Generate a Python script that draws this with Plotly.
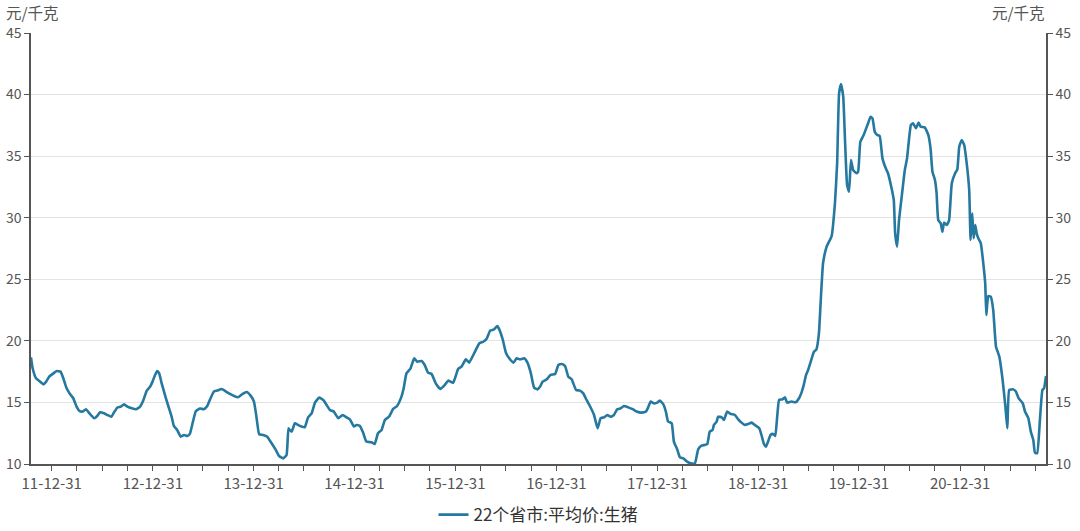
import plotly.graph_objects as go
import pandas as pd

series_name = "22个省市:平均价:生猪"
unit_label = "元/千克"

dates = [
    "2011-10-17","2011-10-23","2011-11-04","2011-11-19","2011-12-01","2011-12-11","2011-12-22",
    "2012-01-06","2012-01-18","2012-02-01","2012-02-11","2012-02-23","2012-03-06","2012-03-18","2012-03-30",
    "2012-04-09","2012-04-21","2012-05-03","2012-05-15","2012-06-01","2012-06-13","2012-06-23","2012-07-07",
    "2012-07-19","2012-08-03","2012-08-12","2012-08-24","2012-09-06","2012-09-18","2012-09-30","2012-10-16",
    "2012-10-31","2012-11-15","2012-11-27","2012-12-09","2012-12-21","2012-12-30",
    "2013-01-08","2013-01-16","2013-01-23","2013-02-01","2013-02-13","2013-02-25","2013-03-09","2013-03-17",
    "2013-03-29","2013-04-11","2013-04-23","2013-05-05","2013-05-14","2013-05-24","2013-06-05","2013-06-20",
    "2013-07-04","2013-07-16","2013-07-28","2013-08-09","2013-08-21","2013-09-06","2013-09-22","2013-10-06",
    "2013-10-21","2013-11-05","2013-11-21","2013-12-06","2013-12-20",
    "2014-01-01","2014-01-10","2014-01-20","2014-02-03","2014-02-18","2014-03-06","2014-03-21","2014-04-02",
    "2014-04-17","2014-04-29","2014-05-06","2014-05-11","2014-05-18","2014-05-29","2014-06-10","2014-06-22",
    "2014-07-04","2014-07-16","2014-07-29","2014-08-10","2014-08-25","2014-09-09","2014-09-21","2014-10-03",
    "2014-10-17","2014-11-02","2014-11-18","2014-12-02","2014-12-14","2014-12-29",
    "2015-01-07","2015-01-19","2015-01-31","2015-02-12","2015-03-03","2015-03-14","2015-03-26","2015-04-08",
    "2015-04-20","2015-05-05","2015-05-20","2015-06-03","2015-06-19","2015-06-27","2015-07-07","2015-07-22",
    "2015-08-04","2015-08-15","2015-08-31","2015-09-11","2015-09-23","2015-10-06","2015-10-21","2015-11-07",
    "2015-11-23","2015-12-05","2015-12-23",
    "2016-01-10","2016-01-22","2016-02-07","2016-02-19","2016-03-11","2016-03-27","2016-04-10","2016-04-23",
    "2016-05-05","2016-05-19","2016-05-31","2016-06-07","2016-06-20","2016-07-01","2016-07-13","2016-07-28",
    "2016-08-09","2016-08-21","2016-09-05","2016-09-17","2016-09-29","2016-10-11","2016-10-23","2016-11-02",
    "2016-11-11","2016-11-26","2016-12-10","2016-12-26",
    "2017-01-07","2017-01-19","2017-01-31","2017-02-12","2017-02-24","2017-03-12","2017-03-26","2017-04-07",
    "2017-04-19","2017-05-01","2017-05-16","2017-05-29","2017-06-09","2017-06-21","2017-07-03","2017-07-15",
    "2017-07-27","2017-08-08","2017-08-20","2017-09-01","2017-09-17","2017-10-03","2017-10-17","2017-11-04",
    "2017-11-20","2017-11-28","2017-12-07","2017-12-19","2017-12-31",
    "2018-01-09","2018-01-21","2018-01-31","2018-02-08","2018-02-21","2018-03-01","2018-03-13","2018-03-23",
    "2018-04-04","2018-04-18","2018-05-01","2018-05-16","2018-05-28","2018-06-09","2018-06-21","2018-06-30",
    "2018-07-09","2018-07-19","2018-07-24","2018-08-03","2018-08-08","2018-08-21","2018-08-29","2018-09-10",
    "2018-09-22","2018-10-08","2018-10-20","2018-11-01","2018-11-13","2018-11-25","2018-12-07","2018-12-19",
    "2019-01-04","2019-01-12","2019-01-21","2019-01-28","2019-02-05","2019-02-14","2019-02-23","2019-03-03",
    "2019-03-10","2019-03-17","2019-03-29","2019-04-07","2019-04-15","2019-05-01","2019-05-16","2019-05-28",
    "2019-06-06","2019-06-14","2019-06-22","2019-06-30","2019-07-12","2019-07-21","2019-07-30","2019-08-08",
    "2019-08-14","2019-08-23","2019-09-05","2019-09-23","2019-10-05","2019-10-13","2019-10-20","2019-10-27",
    "2019-11-04","2019-11-10","2019-11-18","2019-11-25","2019-12-02","2019-12-10","2019-12-22","2019-12-28",
    "2020-01-05","2020-01-17","2020-02-02","2020-02-11","2020-02-18","2020-02-26","2020-03-06","2020-03-15",
    "2020-03-25","2020-04-06","2020-04-14","2020-04-27","2020-05-05","2020-05-10","2020-05-17","2020-05-24",
    "2020-06-02","2020-06-14","2020-06-22","2020-07-06","2020-07-14","2020-07-24","2020-08-03","2020-08-10",
    "2020-08-25","2020-09-07","2020-09-15","2020-09-22","2020-10-01","2020-10-07","2020-10-13","2020-10-22",
    "2020-10-28","2020-11-03","2020-11-13","2020-11-21","2020-12-01","2020-12-13","2020-12-21","2020-12-28",
    "2021-01-06","2021-01-15","2021-01-24","2021-02-02","2021-02-07","2021-02-13","2021-02-18","2021-02-24",
    "2021-03-01","2021-03-07","2021-03-16","2021-03-25","2021-04-01","2021-04-05","2021-04-12","2021-04-21",
    "2021-04-30","2021-05-10","2021-05-22","2021-06-03","2021-06-13","2021-06-20","2021-06-27","2021-07-12",
    "2021-07-21","2021-07-31","2021-08-15","2021-08-23","2021-09-04","2021-09-13","2021-09-22","2021-09-28",
    "2021-10-06","2021-10-16","2021-10-25","2021-10-31","2021-11-07",
]

prices = [
    18.66,17.77,16.96,16.69,16.47,16.69,17.09,
    17.36,17.55,17.50,16.96,16.15,15.69,15.34,14.66,
    14.31,14.26,14.45,14.13,13.72,13.90,14.20,14.12,
    13.98,13.84,14.17,14.57,14.66,14.84,14.66,14.52,
    14.45,14.66,15.20,15.96,16.28,16.69,
    17.23,17.55,17.36,16.55,15.60,14.71,13.84,13.09,
    12.76,12.22,12.36,12.28,12.45,13.33,14.30,14.50,
    14.45,14.71,15.34,15.88,15.96,16.09,15.88,15.69,
    15.52,15.42,15.69,15.85,15.55,
    15.07,13.84,12.41,12.36,12.22,11.68,11.14,10.65,
    10.46,10.73,12.90,12.76,12.63,13.31,13.17,13.04,
    12.98,13.79,14.12,14.98,15.39,15.20,14.79,14.39,
    14.26,13.72,13.98,13.79,13.63,13.04,
    13.17,13.10,12.55,11.82,11.76,11.62,12.50,12.76,
    13.58,13.84,14.47,14.71,15.47,16.15,17.36,17.77,
    18.58,18.31,18.37,18.04,17.42,17.31,16.55,16.09,
    16.42,16.77,16.60,
    17.71,17.90,18.50,18.23,19.12,19.80,19.93,20.20,
    20.83,20.93,21.20,20.93,20.07,19.04,18.58,18.23,
    18.58,18.50,18.58,18.23,17.40,16.20,16.06,16.30,
    16.69,16.88,17.23,17.31,
    18.04,18.12,17.96,17.09,16.88,16.01,15.96,15.74,
    15.20,14.71,13.98,12.90,13.72,13.79,13.98,13.84,
    13.98,14.45,14.52,14.71,14.60,14.45,14.26,14.17,
    14.26,14.60,15.07,14.93,14.98,
    15.15,14.88,14.26,13.45,13.31,11.82,11.19,10.54,
    10.46,10.19,10.05,10.05,11.19,11.49,11.55,11.62,
    12.63,12.76,13.17,13.45,13.84,13.79,13.58,14.26,
    14.07,13.98,13.63,13.36,13.17,13.25,13.36,13.17,
    12.90,12.36,11.62,11.41,11.82,12.36,12.44,12.28,
    13.84,15.20,15.25,15.42,14.98,15.07,15.01,15.34,
    15.80,16.40,17.20,17.63,18.50,19.12,19.30,20.60,
    23.00,26.30,27.65,28.51,31.17,34.42,40.10,40.86,
    39.83,36.58,32.66,32.11,34.69,33.87,33.61,33.74,
    36.17,36.72,37.67,38.20,38.07,36.99,36.72,36.64,
    34.82,34.01,33.61,32.39,31.44,28.73,27.65,29.81,
    31.57,33.87,34.82,37.53,37.67,37.26,37.72,37.39,
    37.34,36.72,35.64,33.74,33.06,31.98,29.81,29.54,
    28.86,29.60,29.41,29.76,32.80,33.61,33.93,35.77,
    36.31,35.90,34.42,32.26,28.19,30.36,28.33,29.41,
    28.73,28.33,27.92,26.30,24.67,22.10,23.64,23.59,
    22.50,19.53,18.72,16.82,14.66,12.90,16.01,16.06,
    15.88,15.34,14.93,14.26,13.72,12.63,11.95,10.92,
    10.87,13.58,16.01,16.15,17.15,
]

tick_dates = ["2011-12-31","2012-12-31","2013-12-31","2014-12-31","2015-12-31",
              "2016-12-31","2017-12-31","2018-12-31","2019-12-31","2020-12-31"]
tick_labels = ["11-12-31","12-12-31","13-12-31","14-12-31","15-12-31",
               "16-12-31","17-12-31","18-12-31","19-12-31","20-12-31"]

y_ticks = [10, 15, 20, 25, 30, 35, 40, 45]

line_color = "#25789f"
axis_color = "#555555"
label_color = "#555555"
font_cjk = "Noto Sans CJK SC, Noto Sans, sans-serif"

quarter_ticks = [d.strftime("%Y-%m-%d") for d in pd.date_range("2011-12-31", "2021-10-01", freq="QE")]

fig = go.Figure()
fig.add_trace(go.Scatter(
    x=dates, y=prices, mode="lines", name=series_name,
    line=dict(color=line_color, width=2.6, shape="spline", smoothing=0.4),
))
fig.add_trace(go.Scatter(
    x=dates, y=prices, mode="lines", yaxis="y2", showlegend=False,
    hoverinfo="skip", line=dict(color="rgba(0,0,0,0)", width=0),
))

fig.update_layout(
    width=1080, height=531,
    margin=dict(l=31, r=34, t=33, b=67),
    paper_bgcolor="white", plot_bgcolor="white",
    font=dict(family=font_cjk, size=15, color=label_color),
    showlegend=True,
    legend=dict(orientation="h", x=0.5, xanchor="center",
                yref="container", y=0.03, yanchor="middle",
                font=dict(size=17, color="#333333"), itemwidth=30),
    xaxis=dict(
        type="date", range=["2011-10-17", "2021-11-07"], automargin=False,
        tickmode="array", tickvals=tick_dates, ticktext=tick_labels,
        ticks="outside", ticklen=5, tickcolor=axis_color,
        showline=True, linecolor=axis_color, linewidth=1.5,
        showgrid=False, zeroline=False,
        minor=dict(tickmode="array", tickvals=quarter_ticks, ticks="outside",
                   ticklen=5, tickcolor=axis_color, showgrid=False),
        tickfont=dict(size=15, color=label_color),
    ),
    yaxis=dict(
        range=[10, 45], tickmode="array", tickvals=y_ticks, automargin=False,
        ticks="outside", ticklen=5, tickcolor=axis_color,
        showline=True, linecolor=axis_color, linewidth=1.5,
        showgrid=True, gridcolor="#e3e3e3", gridwidth=1, zeroline=False,
        tickfont=dict(size=14, color=label_color),
    ),
    yaxis2=dict(
        range=[10, 45], tickmode="array", tickvals=y_ticks, automargin=False,
        overlaying="y", side="right",
        ticks="outside", ticklen=5, tickcolor=axis_color,
        showline=True, linecolor=axis_color, linewidth=1.5,
        showgrid=False, zeroline=False,
        tickfont=dict(size=14, color=label_color),
    ),
    annotations=[
        dict(text=unit_label, xref="paper", yref="paper", x=0, y=1, xshift=-27, yshift=21,
             xanchor="left", yanchor="middle", showarrow=False,
             font=dict(size=15.5, color=label_color, family=font_cjk)),
        dict(text=unit_label, xref="paper", yref="paper", x=1, y=1, xshift=1, yshift=21,
             xanchor="right", yanchor="middle", showarrow=False,
             font=dict(size=15.5, color=label_color, family=font_cjk)),
    ],
)

fig.write_html("out.html", config={"displayModeBar": False},
               post_script="document.body.style.margin='0';")
